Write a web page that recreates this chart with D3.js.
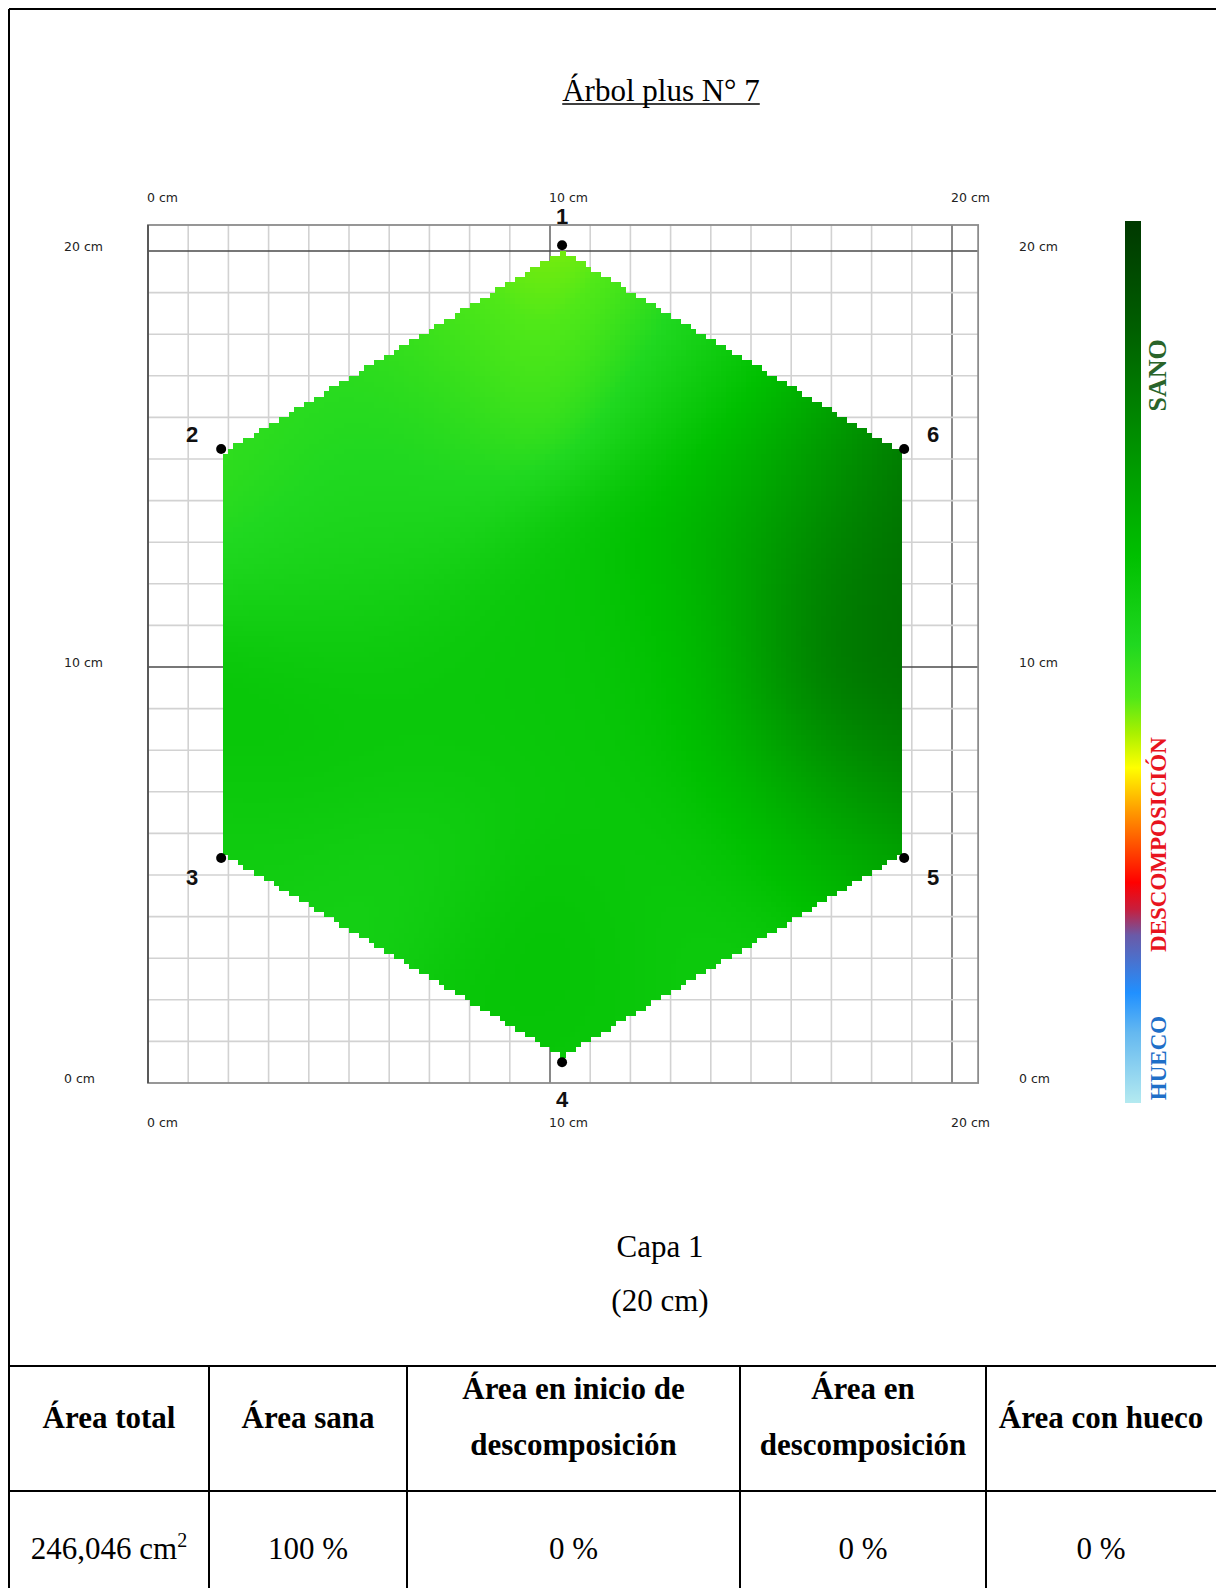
<!DOCTYPE html>
<html>
<head>
<meta charset="utf-8">
<script src="https://cdn.jsdelivr.net/npm/d3@7"></script>
<style>
  html, body { margin: 0; padding: 0; background: #fff; }
  svg { display: block; }
</style>
</head>
<body>
<svg id="chart" width="1216" height="1588"></svg>
<script>
// ---------- data ----------
const titleText = "Árbol plus N° 7";
const layerName = "Capa 1";
const layerDepth = "(20 cm)";

const axisTicks = [0, 10, 20];
const axisTickLabels = ["0 cm", "10 cm", "20 cm"];

// sensor positions around the stem section (cm)
const sensorIds = ["1", "2", "3", "4", "5", "6"];
const sensorX = [10.3, 1.82, 1.82, 10.3, 18.81, 18.81];
const sensorY = [20.14, 15.24, 5.41, 0.5, 5.41, 15.24];

// interpolated wood-condition readings (0 = hollow ... 100 = sound)
const fieldX = [10.3, 7.7, 12.9, 2.1, 4.4, 2.6, 2.1, 6.4, 10.3, 10.0, 14.0, 17.5, 18.5, 18.5, 18.4, 17.0, 15.4, 10.3, 14.0, 6.4, 15.4, 5.9, 12.4, 15.0, 16.8, 18.5, 18.0];
const fieldY = [19.6, 18.2, 18.0, 14.8, 12.4, 8.5, 5.8, 4.6, 0.85, 2.7, 2.7, 5.1, 6.6, 10.2, 14.6, 13.4, 15.1, 10.2, 11.4, 9.0, 7.0, 15.1, 5.1, 17.3, 16.0, 8.2, 12.0];
const fieldV = [41, 49, 51, 49, 55, 61, 56, 55, 58, 63, 57, 57, 78, 86, 95, 74, 62, 59, 62, 59, 62, 52, 58, 57, 68, 84, 84];

// colour ramp of the condition scale
const legendValues = [0, 8, 12.5, 19, 22, 25, 33, 38, 42, 46, 52, 62, 75, 88, 100];
const legendColors = ["#b4eaf0", "#64b8f0", "#2090ff", "#6a5aa8", "#c81e3c", "#ff0000", "#ff9900", "#ffff00",
                      "#a8f000", "#50e818", "#20d820", "#00c000", "#009000", "#005e00", "#003800"];
const legendLabels = ["SANO", "DESCOMPOSICIÓN", "HUECO"];
const legendLabelValues = [82.5, 29.3, 5.1];
const legendLabelColors = ["#2a642a", "#e8141e", "#1f6fc8"];

// summary table
const tableHeaders = [["Área total"], ["Área sana"], ["Área en inicio de", "descomposición"], ["Área en", "descomposición"], ["Área con hueco"]];
const tableValues = ["246,046 cm²", "100 %", "0 %", "0 %", "0 %"];

// ---------- layout ----------
const svg = d3.select("#chart");
const W = 1216, H = 1588;
const serif = "'Liberation Serif', 'Times New Roman', serif";
const sans = "'DejaVu Sans', Verdana, sans-serif";

svg.append("rect").attr("width", W).attr("height", H).attr("fill", "#fff");

const x = d3.scaleLinear().domain([0, 20]).range([148, 952]);
const y = d3.scaleLinear().domain([0, 20]).range([1083, 251]);
const xMax = 20.65, yMax = 20.625;

const color = d3.scaleLinear().domain(legendValues).range(legendColors).interpolate(d3.interpolateRgb).clamp(true);

// ---------- title ----------
const title = svg.append("text")
  .attr("x", 661).attr("y", 101)
  .attr("text-anchor", "middle")
  .attr("font-family", serif).attr("font-size", 31)
  .attr("fill", "#000")
  .text(titleText);
const tb = title.node().getBBox();
svg.append("line")
  .attr("x1", tb.x).attr("x2", tb.x + tb.width)
  .attr("y1", 104).attr("y2", 104)
  .attr("stroke", "#000").attr("stroke-width", 1.6);

// ---------- grid ----------
const plot = svg.append("g");
const cmSteps = d3.range(1, 21);
plot.selectAll("line.gv").data(cmSteps).join("line")
  .attr("x1", d => x(d)).attr("x2", d => x(d))
  .attr("y1", y(yMax)).attr("y2", y(0))
  .attr("stroke", d => (d % 10 === 0) ? "#4a4a4a" : "#d2d2d2")
  .attr("stroke-width", d => (d % 10 === 0) ? 1.3 : 1.6);
plot.selectAll("line.gh").data(cmSteps).join("line")
  .attr("y1", d => y(d)).attr("y2", d => y(d))
  .attr("x1", x(0)).attr("x2", x(xMax))
  .attr("stroke", d => (d % 10 === 0) ? "#4a4a4a" : "#d2d2d2")
  .attr("stroke-width", d => (d % 10 === 0) ? 1.3 : 1.6);
plot.append("rect")
  .attr("x", x(0)).attr("y", y(yMax))
  .attr("width", x(xMax) - x(0)).attr("height", y(0) - y(yMax))
  .attr("fill", "none").attr("stroke", "#8c8c8c").attr("stroke-width", 1.8);
plot.append("line")
  .attr("x1", x(0)).attr("x2", x(0)).attr("y1", y(yMax)).attr("y2", y(0))
  .attr("stroke", "#4a4a4a").attr("stroke-width", 1.6);

// ---------- interpolated section ----------
const sensors = sensorIds.map((id, i) => ({ id, x: sensorX[i], y: sensorY[i] }));
const cx0 = d3.mean(sensorX), cy0 = d3.mean(sensorY);
const shape = sensors.map(s => [cx0 + (s.x - cx0) * 0.99, cy0 + (s.y - cy0) * 0.985]);

const sigma = 2.0;
function condition(px, py) {
  let ws = 0, vs = 0;
  for (let i = 0; i < fieldX.length; i++) {
    const dx = px - fieldX[i], dy = py - fieldY[i];
    const w = Math.exp(-(dx * dx + dy * dy) / (2 * sigma * sigma));
    ws += w; vs += w * fieldV[i];
  }
  return vs / ws;
}

const cell = 0.125;
const cells = [];
for (let cx = 0; cx < xMax; cx += cell) {
  for (let cy = 0; cy < yMax; cy += cell) {
    const mx = cx + cell / 2, my = cy + cell / 2;
    if (d3.polygonContains(shape, [mx, my])) cells.push({ x: cx, y: cy, v: condition(mx, my) });
  }
}
plot.append("g").attr("shape-rendering", "crispEdges")
  .selectAll("rect").data(cells).join("rect")
  .attr("x", d => x(d.x))
  .attr("y", d => y(d.y + cell))
  .attr("width", x(cell) - x(0) + 0.6)
  .attr("height", y(0) - y(cell) + 0.6)
  .attr("fill", d => color(d.v));

// sensor markers and numbers
plot.selectAll("circle.sensor").data(sensors).join("circle")
  .attr("cx", d => x(d.x)).attr("cy", d => y(d.y)).attr("r", 5)
  .attr("fill", "#000");
plot.selectAll("text.sensor").data(sensors).join("text")
  .attr("x", d => x(d.x) + (Math.abs(d.x - cx0) < 1 ? 0 : Math.sign(d.x - cx0) * 29))
  .attr("y", d => {
    if (Math.abs(d.x - cx0) < 1) return y(d.y) + (d.y > cy0 ? -21 : 45);
    return y(d.y) + (d.y > cy0 ? -7 : 27);
  })
  .attr("text-anchor", "middle")
  .attr("font-family", "'Liberation Sans', Arial, sans-serif")
  .attr("font-weight", "bold").attr("font-size", 22)
  .attr("fill", "#111")
  .text(d => d.id);

// ---------- axis labels ----------
const lbl = { "font-family": sans, "font-size": 12.5, "fill": "#222" };
function styleLabel(sel) { Object.entries(lbl).forEach(([k, v]) => sel.attr(k, v)); return sel; }
styleLabel(svg.append("g").selectAll("text").data(axisTicks).join("text")
  .attr("x", d => x(d) - 1).attr("y", 202).text((d, i) => axisTickLabels[i]));
styleLabel(svg.append("g").selectAll("text").data(axisTicks).join("text")
  .attr("x", d => x(d) - 1).attr("y", 1127).text((d, i) => axisTickLabels[i]));
styleLabel(svg.append("g").selectAll("text").data(axisTicks).join("text")
  .attr("x", 64).attr("y", d => y(d) - 0.5).text((d, i) => axisTickLabels[i]));
styleLabel(svg.append("g").selectAll("text").data(axisTicks).join("text")
  .attr("x", 1019).attr("y", d => y(d) - 0.5).text((d, i) => axisTickLabels[i]));

// ---------- colour legend ----------
const ly = d3.scaleLinear().domain([0, 100]).range([1103, 221]);
const grad = svg.append("defs").append("linearGradient")
  .attr("id", "ramp").attr("x1", 0).attr("x2", 0).attr("y1", 1).attr("y2", 0);
grad.selectAll("stop").data(legendValues).join("stop")
  .attr("offset", d => d / 100)
  .attr("stop-color", (d, i) => legendColors[i]);
svg.append("rect")
  .attr("x", 1125).attr("y", ly(100)).attr("width", 16).attr("height", ly(0) - ly(100))
  .attr("fill", "url(#ramp)");
svg.append("g").selectAll("text").data(legendLabels).join("text")
  .attr("transform", (d, i) => `translate(1166,${ly(legendLabelValues[i])}) rotate(-90)`)
  .attr("text-anchor", "middle")
  .attr("font-family", serif).attr("font-weight", "bold")
  .attr("font-size", (d, i) => i === 0 ? 26 : 23)
  .attr("fill", (d, i) => legendLabelColors[i])
  .text(d => d);

// ---------- captions ----------
svg.append("text").attr("x", 660).attr("y", 1257).attr("text-anchor", "middle")
  .attr("font-family", serif).attr("font-size", 31).text(layerName);
svg.append("text").attr("x", 660).attr("y", 1311).attr("text-anchor", "middle")
  .attr("font-family", serif).attr("font-size", 31).text(layerDepth);

// ---------- frame and table ----------
const colEdges = [9, 209, 407, 740, 986, 1230];
const rowTop = 1366, rowMid = 1491;
const frame = svg.append("g").attr("stroke", "#000").attr("stroke-width", 2);
frame.append("line").attr("x1", 9).attr("x2", W + 5).attr("y1", 9).attr("y2", 9);
frame.append("line").attr("x1", 9).attr("x2", 9).attr("y1", 9).attr("y2", H + 5);
frame.append("line").attr("x1", 9).attr("x2", W + 5).attr("y1", rowTop).attr("y2", rowTop);
frame.append("line").attr("x1", 9).attr("x2", W + 5).attr("y1", rowMid).attr("y2", rowMid);
frame.selectAll("line.col").data(colEdges.slice(1, 5)).join("line")
  .attr("x1", d => d).attr("x2", d => d).attr("y1", rowTop).attr("y2", H + 5);

const colCenter = i => (colEdges[i] + Math.min(colEdges[i + 1], W)) / 2;
tableHeaders.forEach((lines, i) => {
  const base = lines.length === 1 ? [1428] : [1399, 1455];
  lines.forEach((t, j) => {
    svg.append("text").attr("x", colCenter(i)).attr("y", base[j])
      .attr("text-anchor", "middle")
      .attr("font-family", serif).attr("font-weight", "bold").attr("font-size", 31)
      .text(t);
  });
});
tableValues.forEach((t, i) => {
  const txt = svg.append("text").attr("x", colCenter(i)).attr("y", 1559)
    .attr("text-anchor", "middle")
    .attr("font-family", serif).attr("font-size", 31);
  const parts = t.split("²");
  txt.append("tspan").text(parts[0]);
  if (parts.length > 1) {
    txt.append("tspan").attr("dy", -12).attr("font-size", 20).text("2");
  }
});
</script>
</body>
</html>
